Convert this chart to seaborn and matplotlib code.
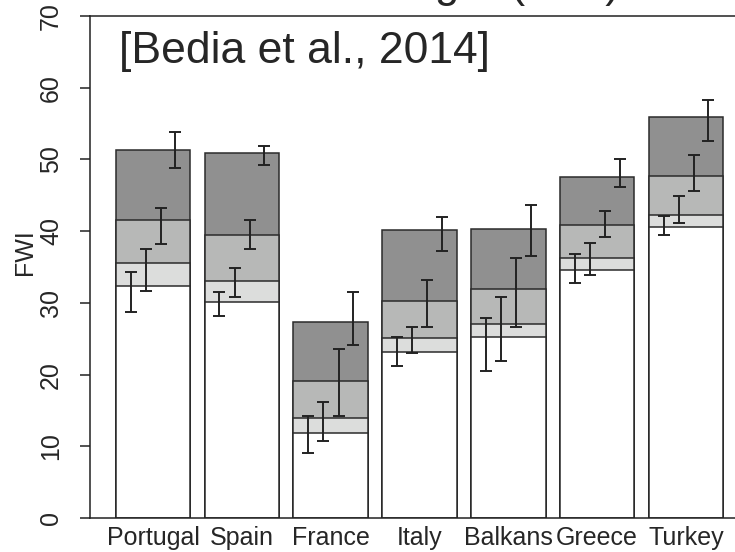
import numpy as np
import pandas as pd
import seaborn as sns
import matplotlib.pyplot as plt

# values (FWI)
regions = ['Portugal', 'Spain', 'France', 'Italy', 'Balkans', 'Greece', 'Turkey']

# bar tops, lowest (white) to highest (dark)
level1 = [32.4, 30.1, 11.9, 23.1, 25.2, 34.6, 40.6]
level2 = [35.5, 33.0, 14.0, 25.1, 27.1, 36.3, 42.3]
level3 = [41.6, 39.4, 19.1, 30.3, 32.0, 40.8, 47.7]
level4 = [51.3, 50.9, 27.4, 40.1, 40.3, 47.5, 55.9]

# error bar ranges (low, high) for each level
err1_lo = [28.7, 28.2, 9.0, 21.2, 20.5, 32.7, 39.4]
err1_hi = [34.3, 31.5, 14.2, 25.2, 27.9, 36.8, 42.1]
err2_lo = [31.7, 30.8, 10.7, 23.0, 21.9, 33.9, 41.1]
err2_hi = [37.5, 34.8, 16.2, 26.7, 30.8, 38.4, 44.9]
err3_lo = [38.2, 37.5, 14.2, 26.7, 26.7, 39.2, 45.6]
err3_hi = [43.2, 41.6, 23.6, 33.2, 36.3, 42.8, 50.6]
err4_lo = [48.8, 49.2, 24.1, 37.2, 36.5, 46.1, 52.6]
err4_hi = [53.8, 51.9, 31.5, 42.0, 43.7, 50.1, 58.3]

sns.set_style('ticks')
plt.rcParams['font.family'] = ['Liberation Sans', 'DejaVu Sans']

fig = plt.figure(figsize=(7.35, 5.52), dpi=100)
ax = fig.add_axes([90 / 735, 34 / 552, 657.3 / 735, 502 / 552])

df = pd.DataFrame({'region': regions, 'l1': level1, 'l2': level2,
                   'l3': level3, 'l4': level4})

# tallest first so the lighter bars sit on top
fills = {'l4': '#909090', 'l3': '#b7b8b7', 'l2': '#dcdddc', 'l1': '#ffffff'}
for col, color in fills.items():
    sns.barplot(data=df, x='region', y=col, order=regions, color=color,
                width=0.84, edgecolor='#2b2b2b', linewidth=1.1,
                saturation=1, ax=ax, zorder=2)

offsets = [-0.253, -0.082, 0.088, 0.252]
errs = [(err1_lo, err1_hi), (err2_lo, err2_hi),
        (err3_lo, err3_hi), (err4_lo, err4_hi)]
xs = np.arange(len(regions))
for off, (lo, hi) in zip(offsets, errs):
    lo = np.array(lo)
    hi = np.array(hi)
    mid = (lo + hi) / 2
    ax.errorbar(xs + off, mid, yerr=[mid - lo, hi - mid], fmt='none',
                ecolor='#222222', elinewidth=1.4, capsize=4, capthick=1.4,
                zorder=5)

ax.set_xlim(-0.71, 6.69)
ax.set_ylim(0, 70)
ax.set_yticks(range(0, 71, 10))
ax.set_xlabel('')
ax.set_ylabel('FWI', fontsize=18)
ax.yaxis.set_label_coords(-0.081, 0.53)
ax.tick_params(axis='y', labelsize=18, labelrotation=90, length=7,
               width=1.1, pad=12.5, color='#222222')
for lab in ax.get_yticklabels():
    lab.set_va('center')
ax.tick_params(axis='x', labelsize=18, length=0, pad=6)
for side in ['left', 'top', 'bottom']:
    ax.spines[side].set_linewidth(1.1)
    ax.spines[side].set_color('#222222')
ax.spines['right'].set_visible(False)

fig.text(119 / 735, 1 - 63 / 552, '[Bedia et al., 2014]',
         fontsize=32, ha='left', va='baseline')
# title sits mostly above the top edge, as in the reference crop
fig.text(620 / 735, 1 + 3 / 552, 'Fire danger (FWI)', fontsize=31.5,
         ha='right', va='baseline')

fig.savefig('out.png', dpi=100)
